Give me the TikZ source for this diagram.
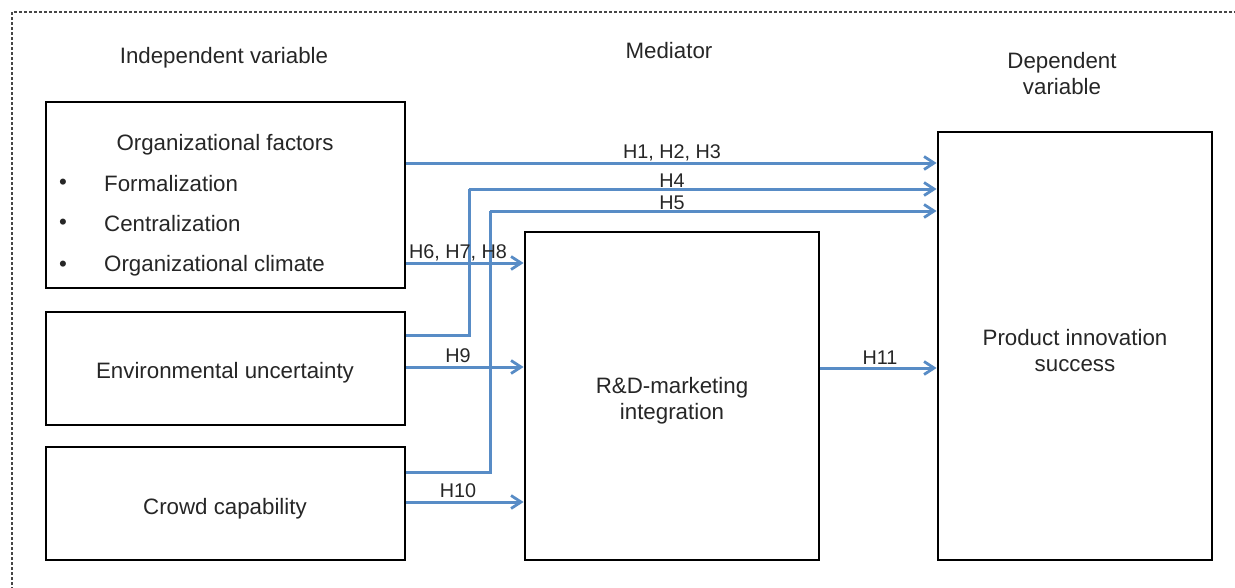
\documentclass[tikz,border=0pt]{standalone}
\usepackage{fontspec}
\setmainfont{Liberation Sans}
\usetikzlibrary{arrows.meta}
\definecolor{linkblue}{RGB}{88,140,198}
\definecolor{frame}{RGB}{70,70,70}
\tikzset{
  box/.style={draw=black, line width=2.8pt, fill=white, inner sep=0pt},
  txt/.style={font=\fontsize{22.3}{26}\selectfont, text=black!85, inner sep=0pt, align=center},
  hyp/.style={font=\fontsize{19.8}{22}\selectfont, text=black!85, inner sep=0pt},
  link/.style={draw=linkblue, line width=3pt,
    -{Straight Barb[length=10pt,width=13pt,line width=2.8pt]}},
  plain/.style={draw=linkblue, line width=3pt},
}
\begin{document}
\begin{tikzpicture}[x=1pt,y=-1pt]
\useasboundingbox (0,0) rectangle (1235,587);
% outer dashed frame (only top and left edges fall inside the page)
\draw[frame, line width=1.1pt, dash pattern=on 3pt off 2pt] (12,600) -- (12,12) -- (1250,12);

% column headings
\node[txt] (hind) at (224,58) {Independent variable};
\node[txt] (hmed) at (669,51) {Mediator};
\node[txt] (hdep) at (1062,74) {Dependent\\variable};

% boxes
\node[box, minimum width=359pt, minimum height=186pt] (org) at (225.5,195) {};
\node[box, minimum width=359pt, minimum height=113pt] (env) at (225.5,368.5) {};
\node[box, minimum width=359pt, minimum height=113pt] (crowd) at (225.5,503.5) {};
\node[box, minimum width=294pt, minimum height=328pt] (med) at (672,396) {};
\node[box, minimum width=274pt, minimum height=428pt] (dep) at (1075,346) {};

% box contents
\node[txt] (orgt) at (225,145) {Organizational factors};
\node[txt] (b1) at (63,184) {•};
\node[txt] (b2) at (63,224) {•};
\node[txt] (b3) at (63,266) {•};
\node[txt, anchor=west] (f1) at (104,184) {Formalization};
\node[txt, anchor=west] (f2) at (104,224) {Centralization};
\node[txt, anchor=west] (f3) at (104,266) {Organizational climate};
\node[txt] (envt) at (225,373) {Environmental uncertainty};
\node[txt] (crowdt) at (225,509) {Crowd capability};
\node[txt] (medt) at (672,401) {R\&D-marketing\\integration};
\node[txt] (dept) at (1075,351) {Product innovation\\success};

% bend points of the routed links
\coordinate (k4) at (469,189);
\coordinate (k5) at (490,211);

% links
\draw[link] (org.east |- 0,163) -- (dep.west |- 0,163);
\draw[plain] (env.east |- 0,335) -| (k4);
\draw[link] (k4) -- (dep.west |- k4);
\draw[plain] (crowd.east |- 0,472) -| (k5);
\draw[link] (k5) -- (dep.west |- k5);
\draw[link] (org.east |- 0,263) -- (med.west |- 0,263);
\draw[link] (env.east |- 0,367) -- (med.west |- 0,367);
\draw[link] (crowd.east |- 0,502) -- (med.west |- 0,502);
\draw[link] (med.east |- 0,368) -- (dep.west |- 0,368);

% hypothesis labels
\node[hyp] (l1) at (672,153) {H1, H2, H3};
\node[hyp] (l4) at (672,181) {H4};
\node[hyp] (l5) at (672,203) {H5};
\node[hyp] (l6) at (458,253) {H6, H7, H8};
\node[hyp] (l9) at (458,356) {H9};
\node[hyp] (l10) at (458,491) {H10};
\node[hyp] (l11) at (880,358) {H11};
\end{tikzpicture}
\end{document}
